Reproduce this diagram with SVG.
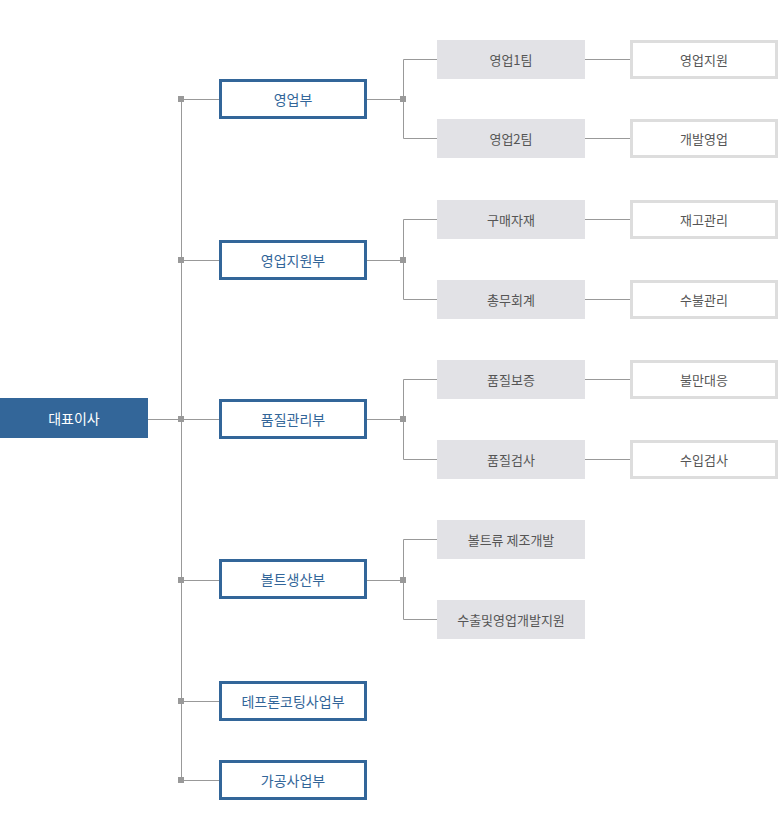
<svg xmlns="http://www.w3.org/2000/svg" width="780" height="839" viewBox="0 0 780 839">
<style>
text{font-family:"Noto Sans CJK KR","Noto Sans",sans-serif;text-anchor:middle;dominant-baseline:central}
.ceo rect{fill:#336699}
.ceo text{fill:#ffffff;font-size:14px}
.dept rect{fill:#ffffff;stroke:#336699;stroke-width:3}
.dept text{fill:#336699;font-size:14px}
.team rect{fill:#e2e2e6}
.team text{fill:#555555;font-size:13px}
.sub rect{fill:#ffffff;stroke:#dddddd;stroke-width:3}
.sub text{fill:#555555;font-size:13px}
.ln{stroke:#999999;stroke-width:1;fill:none}
.jn{fill:#999999}
</style>
<g id="connectors">
<path class="ln" d="M148 419.5H220M181.5 99.5V780.5M181.5 99.5H220M181.5 260.5H220M181.5 580.5H220M181.5 701.5H220M181.5 780.5H220"/>
<path class="ln" d="M367 99.5H403.5M403.5 59.5V138.5M403.5 59.5H437M403.5 138.5H437"/>
<path class="ln" d="M367 260.5H403.5M403.5 219.5V299.5M403.5 219.5H437M403.5 299.5H437"/>
<path class="ln" d="M367 419.5H403.5M403.5 379.5V459.5M403.5 379.5H437M403.5 459.5H437"/>
<path class="ln" d="M367 580.5H403.5M403.5 539.5V619.5M403.5 539.5H437M403.5 619.5H437"/>
<path class="ln" d="M585 59.5H630M585 138.5H630M585 219.5H630M585 299.5H630M585 379.5H630M585 459.5H630"/>
<rect class="jn" x="178" y="96" width="6" height="6"/>
<rect class="jn" x="178" y="257" width="6" height="6"/>
<rect class="jn" x="178" y="416" width="6" height="6"/>
<rect class="jn" x="178" y="577" width="6" height="6"/>
<rect class="jn" x="178" y="698" width="6" height="6"/>
<rect class="jn" x="178" y="777" width="6" height="6"/>
<rect class="jn" x="400" y="96" width="6" height="6"/>
<rect class="jn" x="400" y="257" width="6" height="6"/>
<rect class="jn" x="400" y="416" width="6" height="6"/>
<rect class="jn" x="400" y="577" width="6" height="6"/>
</g>
<g id="ceo" class="ceo"><rect x="0" y="398" width="148" height="40"/><text x="74" y="418">대표이사</text></g>
<g id="d1" class="dept"><rect x="220.5" y="80.5" width="145" height="37"/><text x="293" y="99">영업부</text></g>
<g id="d2" class="dept"><rect x="220.5" y="241.5" width="145" height="37"/><text x="293" y="260">영업지원부</text></g>
<g id="d3" class="dept"><rect x="220.5" y="400.5" width="145" height="37"/><text x="293" y="419">품질관리부</text></g>
<g id="d4" class="dept"><rect x="220.5" y="560.5" width="145" height="37"/><text x="293" y="579">볼트생산부</text></g>
<g id="d5" class="dept"><rect x="220.5" y="682.5" width="145" height="37"/><text x="293" y="701">테프론코팅사업부</text></g>
<g id="d6" class="dept"><rect x="220.5" y="761.5" width="145" height="37"/><text x="293" y="780">가공사업부</text></g>
<g id="t1" class="team"><rect x="437" y="40" width="148" height="39"/><text x="511" y="59">영업1팀</text></g>
<g id="t2" class="team"><rect x="437" y="119" width="148" height="39"/><text x="511" y="138">영업2팀</text></g>
<g id="t3" class="team"><rect x="437" y="200" width="148" height="39"/><text x="511" y="219">구매자재</text></g>
<g id="t4" class="team"><rect x="437" y="280" width="148" height="39"/><text x="511" y="299">총무회계</text></g>
<g id="t5" class="team"><rect x="437" y="360" width="148" height="39"/><text x="511" y="379">품질보증</text></g>
<g id="t6" class="team"><rect x="437" y="440" width="148" height="39"/><text x="511" y="459">품질검사</text></g>
<g id="t7" class="team"><rect x="437" y="520" width="148" height="39"/><text x="511" y="539">볼트류 제조개발</text></g>
<g id="t8" class="team"><rect x="437" y="600" width="148" height="39"/><text x="511" y="619">수출및영업개발지원</text></g>
<g id="s1" class="sub"><rect x="631.5" y="41.5" width="145" height="36"/><text x="704" y="59">영업지원</text></g>
<g id="s2" class="sub"><rect x="631.5" y="120.5" width="145" height="36"/><text x="704" y="138">개발영업</text></g>
<g id="s3" class="sub"><rect x="631.5" y="201.5" width="145" height="36"/><text x="704" y="219">재고관리</text></g>
<g id="s4" class="sub"><rect x="631.5" y="281.5" width="145" height="36"/><text x="704" y="299">수불관리</text></g>
<g id="s5" class="sub"><rect x="631.5" y="361.5" width="145" height="36"/><text x="704" y="379">불만대응</text></g>
<g id="s6" class="sub"><rect x="631.5" y="441.5" width="145" height="36"/><text x="704" y="459">수입검사</text></g>
</svg>
